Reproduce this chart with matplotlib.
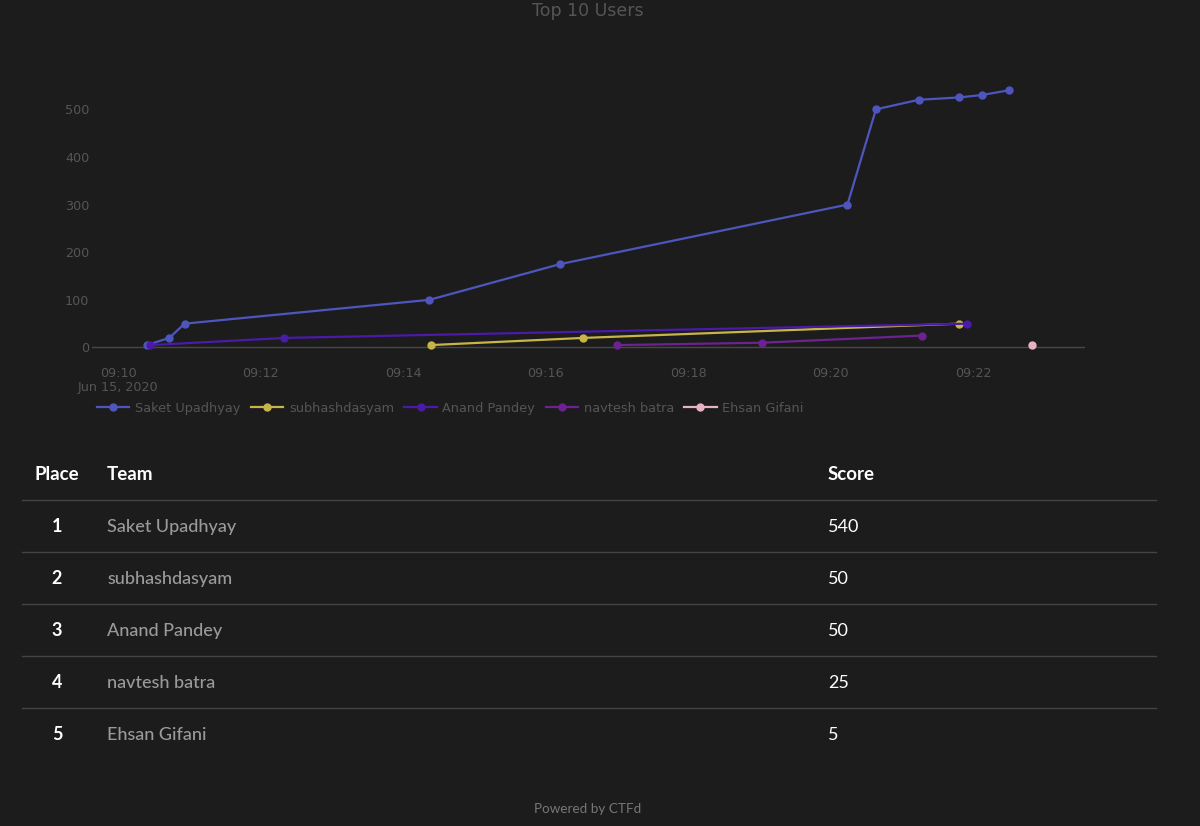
import matplotlib.pyplot as plt
from matplotlib.lines import Line2D
from datetime import datetime

BG = '#1c1c1c'
MUTED = '#555555'

day = '2020-06-15 '

saket_times = ['09:10:24', '09:10:43', '09:10:56', '09:14:22', '09:16:12',
               '09:20:14', '09:20:38', '09:21:14', '09:21:48', '09:22:07', '09:22:30']
saket_scores = [5, 20, 50, 100, 175, 300, 500, 520, 525, 530, 540]

subhash_times = ['09:14:23', '09:16:31', '09:21:48']
subhash_scores = [5, 20, 50]

anand_times = ['09:10:27', '09:12:20', '09:21:55']
anand_scores = [5, 20, 50]

navtesh_times = ['09:17:00', '09:19:02', '09:21:17']
navtesh_scores = [5, 10, 25]

ehsan_times = ['09:22:49']
ehsan_scores = [5]

series = [
    ('Saket Upadhyay', saket_times, saket_scores, '#4e56bd'),
    ('subhashdasyam', subhash_times, subhash_scores, '#c8b548'),
    ('Anand Pandey', anand_times, anand_scores, '#4a1aa8'),
    ('navtesh batra', navtesh_times, navtesh_scores, '#6c2290'),
    ('Ehsan Gifani', ehsan_times, ehsan_scores, '#e6b3c6'),
]

places = ['1', '2', '3', '4', '5']
teams = ['Saket Upadhyay', 'subhashdasyam', 'Anand Pandey', 'navtesh batra', 'Ehsan Gifani']
scores = ['540', '50', '50', '25', '5']


def to_dt(ts):
    return [datetime.strptime(day + t, '%Y-%m-%d %H:%M:%S') for t in ts]


W, H = 1200, 826
fig = plt.figure(figsize=(W / 100, H / 100), dpi=100, facecolor=BG)

# chart area in pixel coords -> figure fractions
left, right, top, bottom = 92, 1085, 76, 357
ax = fig.add_axes([left / W, 1 - bottom / H, (right - left) / W, (bottom - top) / H])
ax.set_facecolor(BG)

for name, ts, vals, col in series:
    ax.plot(to_dt(ts), vals, color=col, lw=1.6, marker='o', ms=5,
            mec=col, mfc=col, label=name)

ax.set_xlim(datetime(2020, 6, 15, 9, 9, 38), datetime(2020, 6, 15, 9, 23, 34))
ax.set_ylim(-20, 570)
ax.axhline(0, color='#484848', lw=1, zorder=0)

for s in ax.spines.values():
    s.set_visible(False)

ax.set_yticks([0, 100, 200, 300, 400, 500])
xt = [datetime(2020, 6, 15, 9, m) for m in range(10, 23, 2)]
ax.set_xticks(xt)
ax.set_xticklabels([t.strftime('%H:%M') + ('\nJun 15, 2020' if i == 0 else '')
                    for i, t in enumerate(xt)], linespacing=1.1)
ax.tick_params(length=0, colors=MUTED, labelsize=9.2)
ax.tick_params(axis='x', pad=7)
ax.tick_params(axis='y', pad=2)

fig.text(588 / W, 1 - 11 / H, 'Top 10 Users', ha='center', va='center',
         color=MUTED, fontsize=12.5)

leg = fig.legend(loc='center left', bbox_to_anchor=(97 / W, 1 - 408 / H), ncol=5,
                 frameon=False, fontsize=9.3, handlelength=2.5, handletextpad=0.45,
                 columnspacing=0.8, borderaxespad=0, borderpad=0)
for t in leg.get_texts():
    t.set_color(MUTED)

# scoreboard table
font = 'Lato'
for label, hx, ha in [('Place', 57, 'center'), ('Team', 107, 'left'), ('Score', 828, 'left')]:
    fig.text(hx / W, 1 - 475 / H, label, ha=ha, va='center', color='white',
             fontsize=13.5, fontweight='bold', family=font)

for i, (p, t, s) in enumerate(zip(places, teams, scores)):
    ly = 1 - (500 + 52 * i) / H
    fig.add_artist(Line2D([22 / W, 1156 / W], [ly, ly], color='#444444', lw=1))
    ry = 1 - (527 + 52 * i) / H
    fig.text(57 / W, ry, p, ha='center', va='center', color='white',
             fontsize=13, fontweight='bold', family=font)
    fig.text(107 / W, ry, t, ha='left', va='center', color='#9a9a9a',
             fontsize=13, fontweight='medium', family=font)
    fig.text(828 / W, ry, s, ha='left', va='center', color='white',
             fontsize=13, family=font)

fig.text(588 / W, 1 - 809 / H, 'Powered by CTFd', ha='center', va='center',
         color='#777777', fontsize=9.7, family=font)

fig.savefig('out.png', dpi=100, facecolor=BG)
